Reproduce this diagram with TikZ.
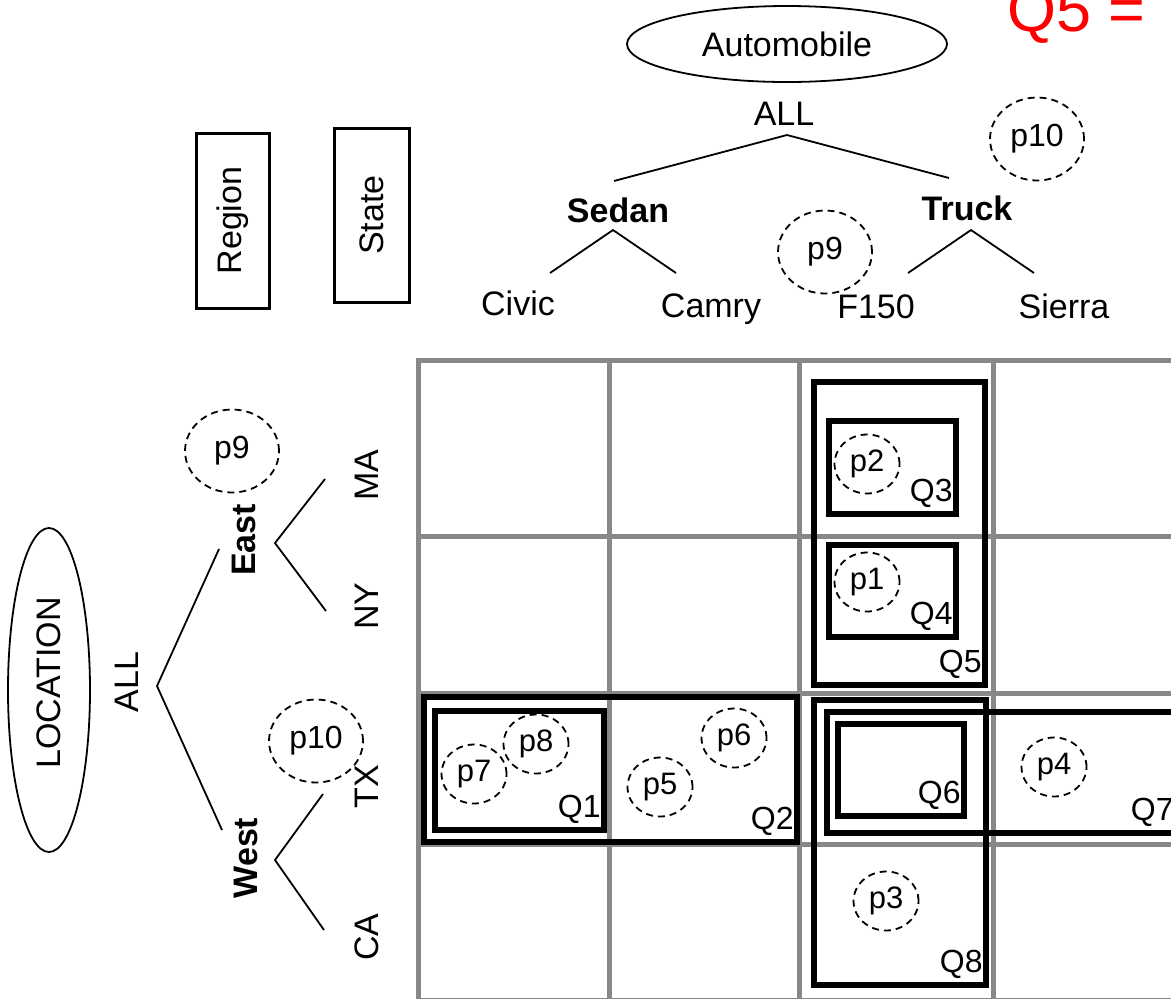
\documentclass[tikz,border=0pt]{standalone}
\usepackage{fontspec}
\setmainfont{Liberation Sans}
\definecolor{cellgray}{RGB}{136,136,136}
\definecolor{hotred}{RGB}{255,0,0}
\usetikzlibrary{shapes.geometric}

\begin{document}
\begin{tikzpicture}[
    x=0.5pt, y=-0.5pt,
    lbl/.style={inner sep=0pt, font=\fontsize{17}{20}\selectfont},
    lvl/.style={inner sep=0pt, font=\fontsize{17}{20}\selectfont\bfseries},
    dimoval/.style={ellipse, draw, line width=0.9pt, inner sep=0pt, font=\fontsize{17}{20}\selectfont},
    dimbox/.style={rectangle, draw, line width=1.5pt, inner sep=0pt, font=\fontsize{17}{20}\selectfont},
    branch/.style={line width=0.9pt},
    point/.style={ellipse, draw, dash pattern=on 3.5pt off 2.5pt, line width=0.9pt, inner sep=0pt,
      minimum width=47pt, minimum height=41.5pt, font=\fontsize{16}{19}\selectfont},
    cellpt/.style={point, minimum width=32.5pt, minimum height=29.5pt, font=\fontsize{15.5}{18}\selectfont},
    cell/.style={draw=cellgray, line width=2.5pt, line cap=rect},
    query/.style={rectangle, draw, line width=3pt, inner sep=0pt, outer sep=0pt},
    qlabel/.style={anchor=base east, inner sep=0pt, font=\fontsize{16}{19}\selectfont}
  ]
    \useasboundingbox (0,0) rectangle (1171,998);
    \clip (0,0) rectangle (1171,998);

    % Grid of cells
    \foreach \gx in {418,609.5,799,993.5}
      \draw[cell] (\gx,360) -- (\gx,1005);
    \foreach \gy in {360,536,693,844.5,1000.5}
      \draw[cell] (418,\gy) -- (1185,\gy);

    % Automobile hierarchy
    \node[dimoval, minimum width=160pt, minimum height=38pt] (auto) at (787,44) {Automobile};
    \node[lbl, anchor=base] (allcar) at (784,125) {ALL};
    \node[lvl, anchor=base] (sedan) at (618,222) {Sedan};
    \node[lvl, anchor=base] (truck) at (967,220) {Truck};
    \node[lbl, anchor=base] (civic) at (518,315) {Civic};
    \node[lbl, anchor=base] (camry) at (711,317) {Camry};
    \node[lbl, anchor=base] (f150) at (876,318) {F150};
    \node[lbl, anchor=base] (sierra) at (1064,318) {Sierra};
    \coordinate (carroot) at (787,135);
    \coordinate (sedanup) at (614,181);
    \coordinate (truckup) at (949,178);
    \coordinate (sedandn) at (613,230);
    \coordinate (truckdn) at (971,230);
    \coordinate (civicup) at (550,273);
    \coordinate (camryup) at (676,273);
    \coordinate (f150up) at (908,273);
    \coordinate (sierraup) at (1034,273);
    \draw[branch] (sedanup) -- (carroot) -- (truckup);
    \draw[branch] (civicup) -- (sedandn) -- (camryup);
    \draw[branch] (f150up) -- (truckdn) -- (sierraup);

    % Level boxes
    \node[dimbox, rotate=90, minimum width=87.5pt, minimum height=36.5pt] (region) at (232.5,220.5) {Region};
    \node[dimbox, rotate=90, minimum width=87pt, minimum height=37.5pt] (state) at (371.5,215) {State};

    % Location hierarchy
    \node[dimoval, rotate=90, minimum width=162pt, minimum height=41pt] (loc) at (49,690) {\hspace*{7pt}LOCATION};
    \node[lbl, rotate=90] (allloc) at (127,682) {ALL};
    \node[lvl, rotate=90] (east) at (244,540) {East};
    \node[lvl, rotate=90] (west) at (246,858) {West};
    \node[lbl, rotate=90] (ma) at (367,475) {MA};
    \node[lbl, rotate=90] (ny) at (367,606) {NY};
    \node[lbl, rotate=90] (tx) at (367,787) {TX};
    \node[lbl, rotate=90] (ca) at (367,937) {CA};
    \coordinate (locroot) at (157,686);
    \coordinate (eastup) at (219,549);
    \coordinate (westup) at (222,830);
    \coordinate (eastdn) at (275,543);
    \coordinate (westdn) at (275,860);
    \coordinate (maup) at (325,479);
    \coordinate (nyup) at (326,611);
    \coordinate (txup) at (323,794);
    \coordinate (caup) at (324,930);
    \draw[branch] (eastup) -- (locroot) -- (westup);
    \draw[branch] (maup) -- (eastdn) -- (nyup);
    \draw[branch] (txup) -- (westdn) -- (caup);

    % Points outside the grid
    \node[point] (p10car) at (1037,139) {p10};
    \node[point] (p9car) at (825,252) {p9};
    \node[point] (p9loc) at (232,451) {p9};
    \node[point] (p10loc) at (316,741) {p10};

    % Query boxes
    \node[query, minimum width=84.5pt, minimum height=59.5pt] (q1) at (519.5,770.5) {};
    \node[query, minimum width=186.5pt, minimum height=72.5pt] (q2) at (610.5,769.5) {};
    \node[query, minimum width=63.5pt, minimum height=46.5pt] (q3) at (892.5,467.5) {};
    \node[query, minimum width=63.5pt, minimum height=46pt] (q4) at (892.5,591) {};
    \node[query, minimum width=85.5pt, minimum height=151.5pt] (q5) at (899.5,533.5) {};
    \node[query, minimum width=63pt, minimum height=46pt] (q6) at (901,770) {};
    \node[query, minimum width=175pt, minimum height=60.5pt] (q7) at (1002,772.5) {};
    \node[query, minimum width=86pt, minimum height=142.5pt] (q8) at (900,842.5) {};
    \foreach \q/\t in {q1/Q1,q2/Q2,q3/Q3,q4/Q4,q5/Q5,q6/Q6,q7/Q7,q8/Q8}
      \node[qlabel] (\q l) at ([shift={(-3,-13)}]\q.south east) {\t};

    % Points in the grid
    \node[cellpt] (p1) at (867,582) {p1};
    \node[cellpt] (p2) at (867,464) {p2};
    \node[cellpt] (p3) at (886,901) {p3};
    \node[cellpt] (p4) at (1054,767) {p4};
    \node[cellpt] (p5) at (660,787) {p5};
    \node[cellpt] (p6) at (734,738) {p6};
    \node[cellpt] (p7) at (474,774) {p7};
    \node[cellpt] (p8) at (536,744) {p8};

    % Query text
    \node[anchor=base west, inner sep=0pt, text=hotred, font=\fontsize{31.5}{36}\selectfont] (qfive) at (1007,31) {Q5 =};
  \end{tikzpicture}
\end{document}
